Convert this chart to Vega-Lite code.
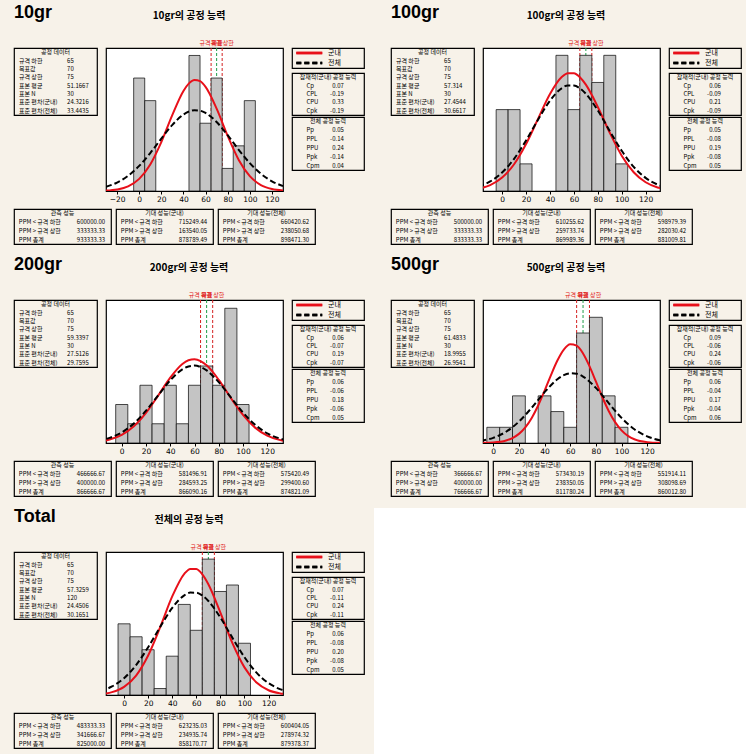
{
"$schema": "https://vega.github.io/schema/vega-lite/v6.json",
"background": "#f7f2e9",
"padding": {"left": 13, "top": 4, "right": 0, "bottom": 0},
"config": {
  "view": {"stroke": null},
  "font": "Noto Sans CJK KR",
  "text": {"font": "Noto Sans CJK KR", "fontSize": 6, "color": "#000"},
  "axis": {"labelFont": "DejaVu Sans", "labelFontSize": 7.5, "labelColor": "#000", "tickColor": "#000", "tickSize": 3, "domain": false, "grid": false, "labelPadding": 1, "labelOverlap": false, "labelFlush": false}
},
"datasets": {
  "heads": [
    {"p": "10gr", "big": "10gr", "title": "10gr의 공정 능력"},
    {"p": "100gr", "big": "100gr", "title": "100gr의 공정 능력"},
    {"p": "200gr", "big": "200gr", "title": "200gr의 공정 능력"},
    {"p": "500gr", "big": "500gr", "title": "500gr의 공정 능력"},
    {"p": "Total", "big": "Total", "title": "전체의 공정 능력"}
  ],
  "spec": [
    {"t": "규격 하한", "v": 65},
    {"t": "목표", "v": 70},
    {"t": "규격 상한", "v": 75}
  ],
  "leg": [{"s": "군내"}, {"s": "전체"}],
  "hist": [
    {"p": "10gr", "lo": -5, "hi": 5, "n": 5}, {"p": "10gr", "lo": 5, "hi": 15, "n": 4}, {"p": "10gr", "lo": 45, "hi": 55, "n": 6}, {"p": "10gr", "lo": 55, "hi": 65, "n": 3}, {"p": "10gr", "lo": 65, "hi": 75, "n": 5}, {"p": "10gr", "lo": 75, "hi": 85, "n": 1}, {"p": "10gr", "lo": 85, "hi": 95, "n": 2}, {"p": "10gr", "lo": 95, "hi": 105, "n": 4},
    {"p": "100gr", "lo": -5, "hi": 5, "n": 3}, {"p": "100gr", "lo": 5, "hi": 15, "n": 3}, {"p": "100gr", "lo": 15, "hi": 25, "n": 1}, {"p": "100gr", "lo": 45, "hi": 55, "n": 5}, {"p": "100gr", "lo": 55, "hi": 65, "n": 3}, {"p": "100gr", "lo": 65, "hi": 75, "n": 5}, {"p": "100gr", "lo": 75, "hi": 85, "n": 4}, {"p": "100gr", "lo": 85, "hi": 95, "n": 5}, {"p": "100gr", "lo": 95, "hi": 105, "n": 1},
    {"p": "200gr", "lo": -5, "hi": 5, "n": 2}, {"p": "200gr", "lo": 5, "hi": 15, "n": 1}, {"p": "200gr", "lo": 15, "hi": 25, "n": 3}, {"p": "200gr", "lo": 25, "hi": 35, "n": 1}, {"p": "200gr", "lo": 35, "hi": 45, "n": 3}, {"p": "200gr", "lo": 45, "hi": 55, "n": 1}, {"p": "200gr", "lo": 55, "hi": 65, "n": 3}, {"p": "200gr", "lo": 65, "hi": 75, "n": 4}, {"p": "200gr", "lo": 75, "hi": 85, "n": 3}, {"p": "200gr", "lo": 85, "hi": 95, "n": 7}, {"p": "200gr", "lo": 95, "hi": 105, "n": 2},
    {"p": "500gr", "lo": -5, "hi": 5, "n": 1}, {"p": "500gr", "lo": 5, "hi": 15, "n": 1}, {"p": "500gr", "lo": 15, "hi": 25, "n": 3}, {"p": "500gr", "lo": 35, "hi": 45, "n": 3}, {"p": "500gr", "lo": 45, "hi": 55, "n": 2}, {"p": "500gr", "lo": 55, "hi": 65, "n": 1}, {"p": "500gr", "lo": 65, "hi": 75, "n": 7}, {"p": "500gr", "lo": 75, "hi": 85, "n": 8}, {"p": "500gr", "lo": 85, "hi": 95, "n": 3}, {"p": "500gr", "lo": 95, "hi": 105, "n": 1},
    {"p": "Total", "lo": -5, "hi": 5, "n": 11}, {"p": "Total", "lo": 5, "hi": 15, "n": 9}, {"p": "Total", "lo": 15, "hi": 25, "n": 7}, {"p": "Total", "lo": 25, "hi": 35, "n": 1}, {"p": "Total", "lo": 35, "hi": 45, "n": 6}, {"p": "Total", "lo": 45, "hi": 55, "n": 14}, {"p": "Total", "lo": 55, "hi": 65, "n": 10}, {"p": "Total", "lo": 65, "hi": 75, "n": 21}, {"p": "Total", "lo": 75, "hi": 85, "n": 16}, {"p": "Total", "lo": 85, "hi": 95, "n": 17}, {"p": "Total", "lo": 95, "hi": 105, "n": 8}
  ],
  "curve": [
    {"p": "10gr", "s": "w", "x": -30, "y": 0.0188}, {"p": "10gr", "s": "w", "x": -20, "y": 0.0681}, {"p": "10gr", "s": "w", "x": -10, "y": 0.2082}, {"p": "10gr", "s": "w", "x": 0, "y": 0.5383}, {"p": "10gr", "s": "w", "x": 10, "y": 1.174}, {"p": "10gr", "s": "w", "x": 20, "y": 2.165}, {"p": "10gr", "s": "w", "x": 30, "y": 3.369}, {"p": "10gr", "s": "w", "x": 40, "y": 4.428}, {"p": "10gr", "s": "w", "x": 45, "y": 4.7651}, {"p": "10gr", "s": "w", "x": 50, "y": 4.915}, {"p": "10gr", "s": "w", "x": 55, "y": 4.8601}, {"p": "10gr", "s": "w", "x": 60, "y": 4.607}, {"p": "10gr", "s": "w", "x": 70, "y": 3.646}, {"p": "10gr", "s": "w", "x": 80, "y": 2.437}, {"p": "10gr", "s": "w", "x": 90, "y": 1.376}, {"p": "10gr", "s": "w", "x": 100, "y": 0.656}, {"p": "10gr", "s": "w", "x": 110, "y": 0.264}, {"p": "10gr", "s": "w", "x": 120, "y": 0.0897}, {"p": "10gr", "s": "w", "x": 130, "y": 0.0257},
    {"p": "10gr", "s": "o", "x": -30, "y": 0.1883}, {"p": "10gr", "s": "o", "x": -20, "y": 0.3719}, {"p": "10gr", "s": "o", "x": -10, "y": 0.6717}, {"p": "10gr", "s": "o", "x": 0, "y": 1.110}, {"p": "10gr", "s": "o", "x": 10, "y": 1.678}, {"p": "10gr", "s": "o", "x": 20, "y": 2.318}, {"p": "10gr", "s": "o", "x": 30, "y": 2.929}, {"p": "10gr", "s": "o", "x": 40, "y": 3.384}, {"p": "10gr", "s": "o", "x": 45, "y": 3.5183}, {"p": "10gr", "s": "o", "x": 50, "y": 3.576}, {"p": "10gr", "s": "o", "x": 55, "y": 3.5552}, {"p": "10gr", "s": "o", "x": 60, "y": 3.456}, {"p": "10gr", "s": "o", "x": 70, "y": 3.054}, {"p": "10gr", "s": "o", "x": 80, "y": 2.468}, {"p": "10gr", "s": "o", "x": 90, "y": 1.824}, {"p": "10gr", "s": "o", "x": 100, "y": 1.233}, {"p": "10gr", "s": "o", "x": 110, "y": 0.762}, {"p": "10gr", "s": "o", "x": 120, "y": 0.4305}, {"p": "10gr", "s": "o", "x": 130, "y": 0.2226},
    {"p": "100gr", "s": "w", "x": -20, "y": 0.0827}, {"p": "100gr", "s": "w", "x": -10, "y": 0.2159}, {"p": "100gr", "s": "w", "x": 0, "y": 0.4935}, {"p": "100gr", "s": "w", "x": 10, "y": 0.9874}, {"p": "100gr", "s": "w", "x": 20, "y": 1.731}, {"p": "100gr", "s": "w", "x": 30, "y": 2.658}, {"p": "100gr", "s": "w", "x": 40, "y": 3.573}, {"p": "100gr", "s": "w", "x": 50, "y": 4.208}, {"p": "100gr", "s": "w", "x": 55, "y": 4.3439}, {"p": "100gr", "s": "w", "x": 60, "y": 4.338}, {"p": "100gr", "s": "w", "x": 65, "y": 4.192}, {"p": "100gr", "s": "w", "x": 70, "y": 3.918}, {"p": "100gr", "s": "w", "x": 80, "y": 3.098}, {"p": "100gr", "s": "w", "x": 90, "y": 2.146}, {"p": "100gr", "s": "w", "x": 100, "y": 1.301}, {"p": "100gr", "s": "w", "x": 110, "y": 0.6914}, {"p": "100gr", "s": "w", "x": 120, "y": 0.3215}, {"p": "100gr", "s": "w", "x": 130, "y": 0.1310}, {"p": "100gr", "s": "w", "x": 140, "y": 0.0467},
    {"p": "100gr", "s": "o", "x": -20, "y": 0.1625}, {"p": "100gr", "s": "o", "x": -10, "y": 0.3508}, {"p": "100gr", "s": "o", "x": 0, "y": 0.6803}, {"p": "100gr", "s": "o", "x": 10, "y": 1.187}, {"p": "100gr", "s": "o", "x": 20, "y": 1.862}, {"p": "100gr", "s": "o", "x": 30, "y": 2.625}, {"p": "100gr", "s": "o", "x": 40, "y": 3.328}, {"p": "100gr", "s": "o", "x": 50, "y": 3.794}, {"p": "100gr", "s": "o", "x": 55, "y": 3.8922}, {"p": "100gr", "s": "o", "x": 60, "y": 3.888}, {"p": "100gr", "s": "o", "x": 65, "y": 3.7826}, {"p": "100gr", "s": "o", "x": 70, "y": 3.583}, {"p": "100gr", "s": "o", "x": 80, "y": 2.968}, {"p": "100gr", "s": "o", "x": 90, "y": 2.211}, {"p": "100gr", "s": "o", "x": 100, "y": 1.481}, {"p": "100gr", "s": "o", "x": 110, "y": 0.8915}, {"p": "100gr", "s": "o", "x": 120, "y": 0.4828}, {"p": "100gr", "s": "o", "x": 130, "y": 0.2350}, {"p": "100gr", "s": "o", "x": 140, "y": 0.1029},
    {"p": "200gr", "s": "w", "x": -20, "y": 0.0680}, {"p": "200gr", "s": "w", "x": -10, "y": 0.1816}, {"p": "200gr", "s": "w", "x": 0, "y": 0.4251}, {"p": "200gr", "s": "w", "x": 10, "y": 0.8713}, {"p": "200gr", "s": "w", "x": 20, "y": 1.565}, {"p": "200gr", "s": "w", "x": 30, "y": 2.463}, {"p": "200gr", "s": "w", "x": 40, "y": 3.398}, {"p": "200gr", "s": "w", "x": 50, "y": 4.107}, {"p": "200gr", "s": "w", "x": 55, "y": 4.2963}, {"p": "200gr", "s": "w", "x": 60, "y": 4.349}, {"p": "200gr", "s": "w", "x": 65, "y": 4.259}, {"p": "200gr", "s": "w", "x": 70, "y": 4.036}, {"p": "200gr", "s": "w", "x": 80, "y": 3.281}, {"p": "200gr", "s": "w", "x": 90, "y": 2.338}, {"p": "200gr", "s": "w", "x": 100, "y": 1.4595}, {"p": "200gr", "s": "w", "x": 110, "y": 0.7987}, {"p": "200gr", "s": "w", "x": 120, "y": 0.3828}, {"p": "200gr", "s": "w", "x": 130, "y": 0.1608}, {"p": "200gr", "s": "w", "x": 140, "y": 0.0592},
    {"p": "200gr", "s": "o", "x": -20, "y": 0.1150}, {"p": "200gr", "s": "o", "x": -10, "y": 0.2664}, {"p": "200gr", "s": "o", "x": 0, "y": 0.5509}, {"p": "200gr", "s": "o", "x": 10, "y": 1.0175}, {"p": "200gr", "s": "o", "x": 20, "y": 1.6786}, {"p": "200gr", "s": "o", "x": 30, "y": 2.4737}, {"p": "200gr", "s": "o", "x": 40, "y": 3.2559}, {"p": "200gr", "s": "o", "x": 50, "y": 3.8286}, {"p": "200gr", "s": "o", "x": 55, "y": 3.9791}, {"p": "200gr", "s": "o", "x": 60, "y": 4.0208}, {"p": "200gr", "s": "o", "x": 65, "y": 3.9495}, {"p": "200gr", "s": "o", "x": 70, "y": 3.7719}, {"p": "200gr", "s": "o", "x": 80, "y": 3.1606}, {"p": "200gr", "s": "o", "x": 90, "y": 2.3655}, {"p": "200gr", "s": "o", "x": 100, "y": 1.5813}, {"p": "200gr", "s": "o", "x": 110, "y": 0.9443}, {"p": "200gr", "s": "o", "x": 120, "y": 0.5035}, {"p": "200gr", "s": "o", "x": 130, "y": 0.2401}, {"p": "200gr", "s": "o", "x": 140, "y": 0.1021},
    {"p": "500gr", "s": "w", "x": -10, "y": 0.0053}, {"p": "500gr", "s": "w", "x": 0, "y": 0.0335}, {"p": "500gr", "s": "w", "x": 10, "y": 0.1601}, {"p": "500gr", "s": "w", "x": 15, "y": 0.3157}, {"p": "500gr", "s": "w", "x": 20, "y": 0.5806}, {"p": "500gr", "s": "w", "x": 25, "y": 0.9968}, {"p": "500gr", "s": "w", "x": 30, "y": 1.596}, {"p": "500gr", "s": "w", "x": 35, "y": 2.385}, {"p": "500gr", "s": "w", "x": 40, "y": 3.324}, {"p": "500gr", "s": "w", "x": 45, "y": 4.325}, {"p": "500gr", "s": "w", "x": 50, "y": 5.249}, {"p": "500gr", "s": "w", "x": 55, "y": 5.944}, {"p": "500gr", "s": "w", "x": 60, "y": 6.2816}, {"p": "500gr", "s": "w", "x": 65, "y": 6.193}, {"p": "500gr", "s": "w", "x": 70, "y": 5.697}, {"p": "500gr", "s": "w", "x": 75, "y": 4.891}, {"p": "500gr", "s": "w", "x": 80, "y": 3.917}, {"p": "500gr", "s": "w", "x": 85, "y": 2.927}, {"p": "500gr", "s": "w", "x": 90, "y": 2.041}, {"p": "500gr", "s": "w", "x": 95, "y": 1.328}, {"p": "500gr", "s": "w", "x": 100, "y": 0.8059}, {"p": "500gr", "s": "w", "x": 105, "y": 0.4565}, {"p": "500gr", "s": "w", "x": 110, "y": 0.2414}, {"p": "500gr", "s": "w", "x": 120, "y": 0.0548}, {"p": "500gr", "s": "w", "x": 130, "y": 0.0094}, {"p": "500gr", "s": "w", "x": 140, "y": 0.0012},
    {"p": "500gr", "s": "o", "x": -10, "y": 0.1319}, {"p": "500gr", "s": "o", "x": 0, "y": 0.3294}, {"p": "500gr", "s": "o", "x": 10, "y": 0.7167}, {"p": "500gr", "s": "o", "x": 20, "y": 1.3587}, {"p": "500gr", "s": "o", "x": 30, "y": 2.245}, {"p": "500gr", "s": "o", "x": 40, "y": 3.2325}, {"p": "500gr", "s": "o", "x": 50, "y": 4.0552}, {"p": "500gr", "s": "o", "x": 55, "y": 4.3136}, {"p": "500gr", "s": "o", "x": 60, "y": 4.4335}, {"p": "500gr", "s": "o", "x": 65, "y": 4.4026}, {"p": "500gr", "s": "o", "x": 70, "y": 4.2235}, {"p": "500gr", "s": "o", "x": 80, "y": 3.5069}, {"p": "500gr", "s": "o", "x": 90, "y": 2.5367}, {"p": "500gr", "s": "o", "x": 100, "y": 1.5994}, {"p": "500gr", "s": "o", "x": 110, "y": 0.8787}, {"p": "500gr", "s": "o", "x": 120, "y": 0.4206}, {"p": "500gr", "s": "o", "x": 130, "y": 0.1755}, {"p": "500gr", "s": "o", "x": 140, "y": 0.0638},
    {"p": "Total", "s": "w", "x": -20, "y": 0.1317}, {"p": "Total", "s": "w", "x": -10, "y": 0.4417}, {"p": "Total", "s": "w", "x": 0, "y": 1.2527}, {"p": "Total", "s": "w", "x": 10, "y": 3.0073}, {"p": "Total", "s": "w", "x": 20, "y": 6.1047}, {"p": "Total", "s": "w", "x": 30, "y": 10.483}, {"p": "Total", "s": "w", "x": 40, "y": 15.231}, {"p": "Total", "s": "w", "x": 50, "y": 18.72}, {"p": "Total", "s": "w", "x": 55, "y": 19.491}, {"p": "Total", "s": "w", "x": 60, "y": 19.462}, {"p": "Total", "s": "w", "x": 65, "y": 18.638}, {"p": "Total", "s": "w", "x": 70, "y": 17.118}, {"p": "Total", "s": "w", "x": 80, "y": 12.738}, {"p": "Total", "s": "w", "x": 90, "y": 8.0196}, {"p": "Total", "s": "w", "x": 100, "y": 4.2702}, {"p": "Total", "s": "w", "x": 110, "y": 1.924}, {"p": "Total", "s": "w", "x": 120, "y": 0.7334}, {"p": "Total", "s": "w", "x": 130, "y": 0.2363}, {"p": "Total", "s": "w", "x": 140, "y": 0.0645},
    {"p": "Total", "s": "o", "x": -20, "y": 0.5939}, {"p": "Total", "s": "o", "x": -10, "y": 1.3147}, {"p": "Total", "s": "o", "x": 0, "y": 2.6075}, {"p": "Total", "s": "o", "x": 10, "y": 4.634}, {"p": "Total", "s": "o", "x": 20, "y": 7.3796}, {"p": "Total", "s": "o", "x": 30, "y": 10.528}, {"p": "Total", "s": "o", "x": 40, "y": 13.456}, {"p": "Total", "s": "o", "x": 50, "y": 15.408}, {"p": "Total", "s": "o", "x": 55, "y": 15.823}, {"p": "Total", "s": "o", "x": 60, "y": 15.808}, {"p": "Total", "s": "o", "x": 65, "y": 15.365}, {"p": "Total", "s": "o", "x": 70, "y": 14.531}, {"p": "Total", "s": "o", "x": 80, "y": 11.966}, {"p": "Total", "s": "o", "x": 90, "y": 8.8285}, {"p": "Total", "s": "o", "x": 100, "y": 5.8355}, {"p": "Total", "s": "o", "x": 110, "y": 3.4565}, {"p": "Total", "s": "o", "x": 120, "y": 1.8346}, {"p": "Total", "s": "o", "x": 130, "y": 0.8719}, {"p": "Total", "s": "o", "x": 140, "y": 0.3714}
  ],
  "box": [
    {"p": "10gr", "b": "d", "l": "공정 데이터", "v": "", "h": 1}, {"p": "10gr", "b": "d", "l": "규격 하한", "v": "65", "h": 0}, {"p": "10gr", "b": "d", "l": "목표값", "v": "70", "h": 0}, {"p": "10gr", "b": "d", "l": "규격 상한", "v": "75", "h": 0}, {"p": "10gr", "b": "d", "l": "표본 평균", "v": "51.1667", "h": 0}, {"p": "10gr", "b": "d", "l": "표본 N", "v": "30", "h": 0}, {"p": "10gr", "b": "d", "l": "표준 편차(군내)", "v": "24.3216", "h": 0}, {"p": "10gr", "b": "d", "l": "표준 편차(전체)", "v": "33.4435", "h": 0},
    {"p": "10gr", "b": "w", "l": "잠재적(군내) 공정 능력", "v": "", "h": 1}, {"p": "10gr", "b": "w", "l": "Cp", "v": "0.07", "h": 0}, {"p": "10gr", "b": "w", "l": "CPL", "v": "-0.19", "h": 0}, {"p": "10gr", "b": "w", "l": "CPU", "v": "0.33", "h": 0}, {"p": "10gr", "b": "w", "l": "Cpk", "v": "-0.19", "h": 0},
    {"p": "10gr", "b": "o", "l": "전체 공정 능력", "v": "", "h": 1}, {"p": "10gr", "b": "o", "l": "Pp", "v": "0.05", "h": 0}, {"p": "10gr", "b": "o", "l": "PPL", "v": "-0.14", "h": 0}, {"p": "10gr", "b": "o", "l": "PPU", "v": "0.24", "h": 0}, {"p": "10gr", "b": "o", "l": "Ppk", "v": "-0.14", "h": 0}, {"p": "10gr", "b": "o", "l": "Cpm", "v": "0.04", "h": 0},
    {"p": "10gr", "b": "ob", "l": "관측 성능", "v": "", "h": 1}, {"p": "10gr", "b": "ob", "l": "PPM < 규격 하한", "v": "600000.00", "h": 0}, {"p": "10gr", "b": "ob", "l": "PPM > 규격 상한", "v": "333333.33", "h": 0}, {"p": "10gr", "b": "ob", "l": "PPM 총계", "v": "933333.33", "h": 0},
    {"p": "10gr", "b": "ew", "l": "기대 성능(군내)", "v": "", "h": 1}, {"p": "10gr", "b": "ew", "l": "PPM < 규격 하한", "v": "715249.44", "h": 0}, {"p": "10gr", "b": "ew", "l": "PPM > 규격 상한", "v": "163540.05", "h": 0}, {"p": "10gr", "b": "ew", "l": "PPM 총계", "v": "878789.49", "h": 0},
    {"p": "10gr", "b": "eo", "l": "기대 성능(전체)", "v": "", "h": 1}, {"p": "10gr", "b": "eo", "l": "PPM < 규격 하한", "v": "660420.62", "h": 0}, {"p": "10gr", "b": "eo", "l": "PPM > 규격 상한", "v": "238050.68", "h": 0}, {"p": "10gr", "b": "eo", "l": "PPM 총계", "v": "898471.30", "h": 0},
    {"p": "100gr", "b": "d", "l": "공정 데이터", "v": "", "h": 1}, {"p": "100gr", "b": "d", "l": "규격 하한", "v": "65", "h": 0}, {"p": "100gr", "b": "d", "l": "목표값", "v": "70", "h": 0}, {"p": "100gr", "b": "d", "l": "규격 상한", "v": "75", "h": 0}, {"p": "100gr", "b": "d", "l": "표본 평균", "v": "57.314", "h": 0}, {"p": "100gr", "b": "d", "l": "표본 N", "v": "30", "h": 0}, {"p": "100gr", "b": "d", "l": "표준 편차(군내)", "v": "27.4544", "h": 0}, {"p": "100gr", "b": "d", "l": "표준 편차(전체)", "v": "30.6617", "h": 0},
    {"p": "100gr", "b": "w", "l": "잠재적(군내) 공정 능력", "v": "", "h": 1}, {"p": "100gr", "b": "w", "l": "Cp", "v": "0.06", "h": 0}, {"p": "100gr", "b": "w", "l": "CPL", "v": "-0.09", "h": 0}, {"p": "100gr", "b": "w", "l": "CPU", "v": "0.21", "h": 0}, {"p": "100gr", "b": "w", "l": "Cpk", "v": "-0.09", "h": 0},
    {"p": "100gr", "b": "o", "l": "전체 공정 능력", "v": "", "h": 1}, {"p": "100gr", "b": "o", "l": "Pp", "v": "0.05", "h": 0}, {"p": "100gr", "b": "o", "l": "PPL", "v": "-0.08", "h": 0}, {"p": "100gr", "b": "o", "l": "PPU", "v": "0.19", "h": 0}, {"p": "100gr", "b": "o", "l": "Ppk", "v": "-0.08", "h": 0}, {"p": "100gr", "b": "o", "l": "Cpm", "v": "0.05", "h": 0},
    {"p": "100gr", "b": "ob", "l": "관측 성능", "v": "", "h": 1}, {"p": "100gr", "b": "ob", "l": "PPM < 규격 하한", "v": "500000.00", "h": 0}, {"p": "100gr", "b": "ob", "l": "PPM > 규격 상한", "v": "333333.33", "h": 0}, {"p": "100gr", "b": "ob", "l": "PPM 총계", "v": "833333.33", "h": 0},
    {"p": "100gr", "b": "ew", "l": "기대 성능(군내)", "v": "", "h": 1}, {"p": "100gr", "b": "ew", "l": "PPM < 규격 하한", "v": "610255.62", "h": 0}, {"p": "100gr", "b": "ew", "l": "PPM > 규격 상한", "v": "259733.74", "h": 0}, {"p": "100gr", "b": "ew", "l": "PPM 총계", "v": "869989.36", "h": 0},
    {"p": "100gr", "b": "eo", "l": "기대 성능(전체)", "v": "", "h": 1}, {"p": "100gr", "b": "eo", "l": "PPM < 규격 하한", "v": "598979.39", "h": 0}, {"p": "100gr", "b": "eo", "l": "PPM > 규격 상한", "v": "282030.42", "h": 0}, {"p": "100gr", "b": "eo", "l": "PPM 총계", "v": "881009.81", "h": 0},
    {"p": "200gr", "b": "d", "l": "공정 데이터", "v": "", "h": 1}, {"p": "200gr", "b": "d", "l": "규격 하한", "v": "65", "h": 0}, {"p": "200gr", "b": "d", "l": "목표값", "v": "70", "h": 0}, {"p": "200gr", "b": "d", "l": "규격 상한", "v": "75", "h": 0}, {"p": "200gr", "b": "d", "l": "표본 평균", "v": "59.3397", "h": 0}, {"p": "200gr", "b": "d", "l": "표본 N", "v": "30", "h": 0}, {"p": "200gr", "b": "d", "l": "표준 편차(군내)", "v": "27.5126", "h": 0}, {"p": "200gr", "b": "d", "l": "표준 편차(전체)", "v": "29.7595", "h": 0},
    {"p": "200gr", "b": "w", "l": "잠재적(군내) 공정 능력", "v": "", "h": 1}, {"p": "200gr", "b": "w", "l": "Cp", "v": "0.06", "h": 0}, {"p": "200gr", "b": "w", "l": "CPL", "v": "-0.07", "h": 0}, {"p": "200gr", "b": "w", "l": "CPU", "v": "0.19", "h": 0}, {"p": "200gr", "b": "w", "l": "Cpk", "v": "-0.07", "h": 0},
    {"p": "200gr", "b": "o", "l": "전체 공정 능력", "v": "", "h": 1}, {"p": "200gr", "b": "o", "l": "Pp", "v": "0.06", "h": 0}, {"p": "200gr", "b": "o", "l": "PPL", "v": "-0.06", "h": 0}, {"p": "200gr", "b": "o", "l": "PPU", "v": "0.18", "h": 0}, {"p": "200gr", "b": "o", "l": "Ppk", "v": "-0.06", "h": 0}, {"p": "200gr", "b": "o", "l": "Cpm", "v": "0.05", "h": 0},
    {"p": "200gr", "b": "ob", "l": "관측 성능", "v": "", "h": 1}, {"p": "200gr", "b": "ob", "l": "PPM < 규격 하한", "v": "466666.67", "h": 0}, {"p": "200gr", "b": "ob", "l": "PPM > 규격 상한", "v": "400000.00", "h": 0}, {"p": "200gr", "b": "ob", "l": "PPM 총계", "v": "866666.67", "h": 0},
    {"p": "200gr", "b": "ew", "l": "기대 성능(군내)", "v": "", "h": 1}, {"p": "200gr", "b": "ew", "l": "PPM < 규격 하한", "v": "581496.91", "h": 0}, {"p": "200gr", "b": "ew", "l": "PPM > 규격 상한", "v": "284593.25", "h": 0}, {"p": "200gr", "b": "ew", "l": "PPM 총계", "v": "866090.16", "h": 0},
    {"p": "200gr", "b": "eo", "l": "기대 성능(전체)", "v": "", "h": 1}, {"p": "200gr", "b": "eo", "l": "PPM < 규격 하한", "v": "575420.49", "h": 0}, {"p": "200gr", "b": "eo", "l": "PPM > 규격 상한", "v": "299400.60", "h": 0}, {"p": "200gr", "b": "eo", "l": "PPM 총계", "v": "874821.09", "h": 0},
    {"p": "500gr", "b": "d", "l": "공정 데이터", "v": "", "h": 1}, {"p": "500gr", "b": "d", "l": "규격 하한", "v": "65", "h": 0}, {"p": "500gr", "b": "d", "l": "목표값", "v": "70", "h": 0}, {"p": "500gr", "b": "d", "l": "규격 상한", "v": "75", "h": 0}, {"p": "500gr", "b": "d", "l": "표본 평균", "v": "61.4833", "h": 0}, {"p": "500gr", "b": "d", "l": "표본 N", "v": "30", "h": 0}, {"p": "500gr", "b": "d", "l": "표준 편차(군내)", "v": "18.9955", "h": 0}, {"p": "500gr", "b": "d", "l": "표준 편차(전체)", "v": "26.9541", "h": 0},
    {"p": "500gr", "b": "w", "l": "잠재적(군내) 공정 능력", "v": "", "h": 1}, {"p": "500gr", "b": "w", "l": "Cp", "v": "0.09", "h": 0}, {"p": "500gr", "b": "w", "l": "CPL", "v": "-0.06", "h": 0}, {"p": "500gr", "b": "w", "l": "CPU", "v": "0.24", "h": 0}, {"p": "500gr", "b": "w", "l": "Cpk", "v": "-0.06", "h": 0},
    {"p": "500gr", "b": "o", "l": "전체 공정 능력", "v": "", "h": 1}, {"p": "500gr", "b": "o", "l": "Pp", "v": "0.06", "h": 0}, {"p": "500gr", "b": "o", "l": "PPL", "v": "-0.04", "h": 0}, {"p": "500gr", "b": "o", "l": "PPU", "v": "0.17", "h": 0}, {"p": "500gr", "b": "o", "l": "Ppk", "v": "-0.04", "h": 0}, {"p": "500gr", "b": "o", "l": "Cpm", "v": "0.06", "h": 0},
    {"p": "500gr", "b": "ob", "l": "관측 성능", "v": "", "h": 1}, {"p": "500gr", "b": "ob", "l": "PPM < 규격 하한", "v": "366666.67", "h": 0}, {"p": "500gr", "b": "ob", "l": "PPM > 규격 상한", "v": "400000.00", "h": 0}, {"p": "500gr", "b": "ob", "l": "PPM 총계", "v": "766666.67", "h": 0},
    {"p": "500gr", "b": "ew", "l": "기대 성능(군내)", "v": "", "h": 1}, {"p": "500gr", "b": "ew", "l": "PPM < 규격 하한", "v": "573430.19", "h": 0}, {"p": "500gr", "b": "ew", "l": "PPM > 규격 상한", "v": "238350.05", "h": 0}, {"p": "500gr", "b": "ew", "l": "PPM 총계", "v": "811780.24", "h": 0},
    {"p": "500gr", "b": "eo", "l": "기대 성능(전체)", "v": "", "h": 1}, {"p": "500gr", "b": "eo", "l": "PPM < 규격 하한", "v": "551914.11", "h": 0}, {"p": "500gr", "b": "eo", "l": "PPM > 규격 상한", "v": "308098.69", "h": 0}, {"p": "500gr", "b": "eo", "l": "PPM 총계", "v": "860012.80", "h": 0},
    {"p": "Total", "b": "d", "l": "공정 데이터", "v": "", "h": 1}, {"p": "Total", "b": "d", "l": "규격 하한", "v": "65", "h": 0}, {"p": "Total", "b": "d", "l": "목표값", "v": "70", "h": 0}, {"p": "Total", "b": "d", "l": "규격 상한", "v": "75", "h": 0}, {"p": "Total", "b": "d", "l": "표본 평균", "v": "57.3259", "h": 0}, {"p": "Total", "b": "d", "l": "표본 N", "v": "120", "h": 0}, {"p": "Total", "b": "d", "l": "표준 편차(군내)", "v": "24.4506", "h": 0}, {"p": "Total", "b": "d", "l": "표준 편차(전체)", "v": "30.1651", "h": 0},
    {"p": "Total", "b": "w", "l": "잠재적(군내) 공정 능력", "v": "", "h": 1}, {"p": "Total", "b": "w", "l": "Cp", "v": "0.07", "h": 0}, {"p": "Total", "b": "w", "l": "CPL", "v": "-0.11", "h": 0}, {"p": "Total", "b": "w", "l": "CPU", "v": "0.24", "h": 0}, {"p": "Total", "b": "w", "l": "Cpk", "v": "-0.11", "h": 0},
    {"p": "Total", "b": "o", "l": "전체 공정 능력", "v": "", "h": 1}, {"p": "Total", "b": "o", "l": "Pp", "v": "0.06", "h": 0}, {"p": "Total", "b": "o", "l": "PPL", "v": "-0.08", "h": 0}, {"p": "Total", "b": "o", "l": "PPU", "v": "0.20", "h": 0}, {"p": "Total", "b": "o", "l": "Ppk", "v": "-0.08", "h": 0}, {"p": "Total", "b": "o", "l": "Cpm", "v": "0.05", "h": 0},
    {"p": "Total", "b": "ob", "l": "관측 성능", "v": "", "h": 1}, {"p": "Total", "b": "ob", "l": "PPM < 규격 하한", "v": "483333.33", "h": 0}, {"p": "Total", "b": "ob", "l": "PPM > 규격 상한", "v": "341666.67", "h": 0}, {"p": "Total", "b": "ob", "l": "PPM 총계", "v": "825000.00", "h": 0},
    {"p": "Total", "b": "ew", "l": "기대 성능(군내)", "v": "", "h": 1}, {"p": "Total", "b": "ew", "l": "PPM < 규격 하한", "v": "623235.03", "h": 0}, {"p": "Total", "b": "ew", "l": "PPM > 규격 상한", "v": "234935.74", "h": 0}, {"p": "Total", "b": "ew", "l": "PPM 총계", "v": "858170.77", "h": 0},
    {"p": "Total", "b": "eo", "l": "기대 성능(전체)", "v": "", "h": 1}, {"p": "Total", "b": "eo", "l": "PPM < 규격 하한", "v": "600404.05", "h": 0}, {"p": "Total", "b": "eo", "l": "PPM > 규격 상한", "v": "278974.32", "h": 0}, {"p": "Total", "b": "eo", "l": "PPM 총계", "v": "879378.37", "h": 0}
  ]
},
"spacing": 11,
"vconcat": [
 {"spacing": 25, "hconcat": [
  {"spacing": 17, "vconcat": [
   {"width": 350, "height": 18, "view": {"stroke": null}, "data": {"name": "heads"}, "transform": [{"filter": "datum.p==='10gr'"}],
    "layer": [
     {"mark": {"type": "text", "align": "left", "font": "Liberation Sans", "fontSize": 18, "fontWeight": "bold"}, "encoding": {"x": {"datum": 0, "type": "quantitative", "scale": {"domain": [0, 1]}, "axis": null}, "text": {"field": "big", "type": "nominal"}}},
     {"mark": {"type": "text", "align": "center", "fontSize": 10, "fontWeight": "bold", "dy": 3}, "encoding": {"x": {"datum": 0.5, "type": "quantitative"}, "text": {"field": "title", "type": "nominal"}}}
    ]},
   {"spacing": 4, "vconcat": [
    {"bounds": "flush", "spacing": 9, "hconcat": [
     {"width": 83, "height": 67, "view": {"stroke": "#000", "strokeWidth": 1.2}, "data": {"name": "box"}, "transform": [{"filter": "datum.p==='10gr' && datum.b==='d'"}],
      "encoding": {"y": {"field": "l", "type": "nominal", "sort": null, "axis": null}},
      "layer": [
       {"mark": "text", "encoding": {"text": {"condition": {"test": "datum.h==1", "field": "l", "type": "nominal"}, "value": ""}}},
       {"mark": {"type": "text", "align": "left"}, "encoding": {"x": {"datum": 0.06, "type": "quantitative", "scale": {"domain": [0, 1]}, "axis": null}, "text": {"condition": {"test": "datum.h==1", "value": ""}, "field": "l", "type": "nominal"}}},
       {"mark": {"type": "text", "align": "left"}, "encoding": {"x": {"datum": 0.64, "type": "quantitative"}, "text": {"field": "v", "type": "nominal"}}}
      ]},
     {"width": 177, "height": 143, "view": {"fill": "white", "stroke": "#000", "strokeWidth": 1.2},
      "layer": [
       {"data": {"name": "spec"}, "transform": [{"filter": "datum.t!=='목표'"}], "mark": {"type": "rule", "color": "#d42020", "strokeDash": [3, 2], "strokeWidth": 1}, "encoding": {"x": {"field": "v", "type": "quantitative", "scale": {"domain": [-30, 130], "nice": false, "zero": false}, "axis": {"values": [-20, 0, 20, 40, 60, 80, 100, 120], "tickCount": 20, "title": null, "labelOverlap": false, "labelSeparation": 0}}}},
       {"data": {"name": "spec"}, "transform": [{"filter": "datum.t==='목표'"}], "mark": {"type": "rule", "color": "#1f9e4a", "strokeDash": [3, 2], "strokeWidth": 1}, "encoding": {"x": {"field": "v", "type": "quantitative"}}},
       {"data": {"name": "hist"}, "transform": [{"filter": "datum.p==='10gr'"}], "mark": {"type": "rect", "fill": "#c4c4c4", "stroke": "#000", "strokeWidth": 0.7}, "encoding": {"x": {"field": "lo", "type": "quantitative"}, "x2": {"field": "hi"}, "y": {"field": "n", "type": "quantitative", "scale": {"domain": [0, 6.33], "nice": false}, "axis": null}, "y2": {"datum": 0}}},
       {"data": {"name": "curve"}, "transform": [{"filter": "datum.p==='10gr' && datum.s==='w'"}], "mark": {"type": "line", "color": "#e8101a", "strokeWidth": 2, "clip": true, "interpolate": "monotone"}, "encoding": {"x": {"field": "x", "type": "quantitative"}, "y": {"field": "y", "type": "quantitative", "axis": null}}},
       {"data": {"name": "curve"}, "transform": [{"filter": "datum.p==='10gr' && datum.s==='o'"}], "mark": {"type": "line", "color": "#000", "strokeWidth": 2, "strokeDash": [6, 3], "clip": true, "interpolate": "monotone"}, "encoding": {"x": {"field": "x", "type": "quantitative"}, "y": {"field": "y", "type": "quantitative", "axis": null}}},
       {"data": {"name": "spec"}, "mark": {"type": "text", "fontSize": 6, "baseline": "bottom", "dy": -2, "color": "#e02020"}, "encoding": {"x": {"field": "v", "type": "quantitative"}, "y": {"datum": 6.33, "type": "quantitative", "axis": null}, "text": {"field": "t", "type": "nominal"}}}
      ]},
     {"spacing": 3, "vconcat": [
      {"width": 72, "height": 20, "view": {"stroke": "#000", "strokeWidth": 1.2}, "data": {"name": "leg"},
       "layer": [
        {"mark": {"type": "rule", "color": "#e8101a", "strokeWidth": 2.5}, "encoding": {"x": {"datum": 0.06, "type": "quantitative", "scale": {"domain": [0, 1]}, "axis": null}, "x2": {"datum": 0.42}, "y": {"datum": "군내", "type": "nominal", "scale": {"domain": ["군내", "전체"]}, "axis": null}}},
        {"mark": {"type": "rule", "color": "#000", "strokeWidth": 2.5, "strokeDash": [5, 3]}, "encoding": {"x": {"datum": 0.06, "type": "quantitative"}, "x2": {"datum": 0.42}, "y": {"datum": "전체", "type": "nominal"}}},
        {"mark": {"type": "text", "align": "left", "fontSize": 7}, "encoding": {"x": {"datum": 0.5, "type": "quantitative"}, "y": {"field": "s", "type": "nominal"}, "text": {"field": "s", "type": "nominal"}}}
       ]},
      {"spacing": 0, "vconcat": [
       {"width": 72, "height": 42, "view": {"stroke": "#000", "strokeWidth": 1.2}, "data": {"name": "box"}, "transform": [{"filter": "datum.p==='10gr' && datum.b==='w'"}],
        "encoding": {"y": {"field": "l", "type": "nominal", "sort": null, "axis": null}},
        "layer": [
         {"mark": "text", "encoding": {"text": {"condition": {"test": "datum.h==1", "field": "l", "type": "nominal"}, "value": ""}}},
         {"mark": {"type": "text", "align": "left"}, "encoding": {"x": {"datum": 0.2, "type": "quantitative", "scale": {"domain": [0, 1]}, "axis": null}, "text": {"condition": {"test": "datum.h==1", "value": ""}, "field": "l", "type": "nominal"}}},
         {"mark": {"type": "text", "align": "right"}, "encoding": {"x": {"datum": 0.72, "type": "quantitative"}, "text": {"field": "v", "type": "nominal"}}}
        ]},
       {"width": 72, "height": 53, "view": {"stroke": "#000", "strokeWidth": 1.2}, "data": {"name": "box"}, "transform": [{"filter": "datum.p==='10gr' && datum.b==='o'"}],
        "encoding": {"y": {"field": "l", "type": "nominal", "sort": null, "axis": null}},
        "layer": [
         {"mark": "text", "encoding": {"text": {"condition": {"test": "datum.h==1", "field": "l", "type": "nominal"}, "value": ""}}},
         {"mark": {"type": "text", "align": "left"}, "encoding": {"x": {"datum": 0.2, "type": "quantitative", "scale": {"domain": [0, 1]}, "axis": null}, "text": {"condition": {"test": "datum.h==1", "value": ""}, "field": "l", "type": "nominal"}}},
         {"mark": {"type": "text", "align": "right"}, "encoding": {"x": {"datum": 0.72, "type": "quantitative"}, "text": {"field": "v", "type": "nominal"}}}
        ]}
      ]}
     ]}
    ]},
    {"spacing": 3, "hconcat": [
     {"width": 97, "height": 35, "view": {"stroke": "#000", "strokeWidth": 1.2}, "data": {"name": "box"}, "transform": [{"filter": "datum.p==='10gr' && datum.b==='ob'"}],
      "encoding": {"y": {"field": "l", "type": "nominal", "sort": null, "axis": null}},
      "layer": [
       {"mark": "text", "encoding": {"text": {"condition": {"test": "datum.h==1", "field": "l", "type": "nominal"}, "value": ""}}},
       {"mark": {"type": "text", "align": "left"}, "encoding": {"x": {"datum": 0.05, "type": "quantitative", "scale": {"domain": [0, 1]}, "axis": null}, "text": {"condition": {"test": "datum.h==1", "value": ""}, "field": "l", "type": "nominal"}}},
       {"mark": {"type": "text", "align": "right"}, "encoding": {"x": {"datum": 0.94, "type": "quantitative"}, "text": {"field": "v", "type": "nominal"}}}
      ]},
     {"width": 97, "height": 35, "view": {"stroke": "#000", "strokeWidth": 1.2}, "data": {"name": "box"}, "transform": [{"filter": "datum.p==='10gr' && datum.b==='ew'"}],
      "encoding": {"y": {"field": "l", "type": "nominal", "sort": null, "axis": null}},
      "layer": [
       {"mark": "text", "encoding": {"text": {"condition": {"test": "datum.h==1", "field": "l", "type": "nominal"}, "value": ""}}},
       {"mark": {"type": "text", "align": "left"}, "encoding": {"x": {"datum": 0.05, "type": "quantitative", "scale": {"domain": [0, 1]}, "axis": null}, "text": {"condition": {"test": "datum.h==1", "value": ""}, "field": "l", "type": "nominal"}}},
       {"mark": {"type": "text", "align": "right"}, "encoding": {"x": {"datum": 0.94, "type": "quantitative"}, "text": {"field": "v", "type": "nominal"}}}
      ]},
     {"width": 97, "height": 35, "view": {"stroke": "#000", "strokeWidth": 1.2}, "data": {"name": "box"}, "transform": [{"filter": "datum.p==='10gr' && datum.b==='eo'"}],
      "encoding": {"y": {"field": "l", "type": "nominal", "sort": null, "axis": null}},
      "layer": [
       {"mark": "text", "encoding": {"text": {"condition": {"test": "datum.h==1", "field": "l", "type": "nominal"}, "value": ""}}},
       {"mark": {"type": "text", "align": "left"}, "encoding": {"x": {"datum": 0.05, "type": "quantitative", "scale": {"domain": [0, 1]}, "axis": null}, "text": {"condition": {"test": "datum.h==1", "value": ""}, "field": "l", "type": "nominal"}}},
       {"mark": {"type": "text", "align": "right"}, "encoding": {"x": {"datum": 0.94, "type": "quantitative"}, "text": {"field": "v", "type": "nominal"}}}
      ]}
    ]}
   ]}
  ]},
  {"spacing": 17, "vconcat": [
   {"width": 350, "height": 18, "view": {"stroke": null}, "data": {"name": "heads"}, "transform": [{"filter": "datum.p==='100gr'"}],
    "layer": [
     {"mark": {"type": "text", "align": "left", "font": "Liberation Sans", "fontSize": 18, "fontWeight": "bold"}, "encoding": {"x": {"datum": 0, "type": "quantitative", "scale": {"domain": [0, 1]}, "axis": null}, "text": {"field": "big", "type": "nominal"}}},
     {"mark": {"type": "text", "align": "center", "fontSize": 10, "fontWeight": "bold", "dy": 3}, "encoding": {"x": {"datum": 0.5, "type": "quantitative"}, "text": {"field": "title", "type": "nominal"}}}
    ]},
   {"spacing": 4, "vconcat": [
    {"bounds": "flush", "spacing": 9, "hconcat": [
     {"width": 83, "height": 67, "view": {"stroke": "#000", "strokeWidth": 1.2}, "data": {"name": "box"}, "transform": [{"filter": "datum.p==='100gr' && datum.b==='d'"}],
      "encoding": {"y": {"field": "l", "type": "nominal", "sort": null, "axis": null}},
      "layer": [
       {"mark": "text", "encoding": {"text": {"condition": {"test": "datum.h==1", "field": "l", "type": "nominal"}, "value": ""}}},
       {"mark": {"type": "text", "align": "left"}, "encoding": {"x": {"datum": 0.06, "type": "quantitative", "scale": {"domain": [0, 1]}, "axis": null}, "text": {"condition": {"test": "datum.h==1", "value": ""}, "field": "l", "type": "nominal"}}},
       {"mark": {"type": "text", "align": "left"}, "encoding": {"x": {"datum": 0.64, "type": "quantitative"}, "text": {"field": "v", "type": "nominal"}}}
      ]},
     {"width": 177, "height": 143, "view": {"fill": "white", "stroke": "#000", "strokeWidth": 1.2},
      "layer": [
       {"data": {"name": "spec"}, "transform": [{"filter": "datum.t!=='목표'"}], "mark": {"type": "rule", "color": "#d42020", "strokeDash": [3, 2], "strokeWidth": 1}, "encoding": {"x": {"field": "v", "type": "quantitative", "scale": {"domain": [-16, 132], "nice": false, "zero": false}, "axis": {"values": [0, 20, 40, 60, 80, 100, 120], "tickCount": 20, "title": null, "labelOverlap": false, "labelSeparation": 0}}}},
       {"data": {"name": "spec"}, "transform": [{"filter": "datum.t==='목표'"}], "mark": {"type": "rule", "color": "#1f9e4a", "strokeDash": [3, 2], "strokeWidth": 1}, "encoding": {"x": {"field": "v", "type": "quantitative"}}},
       {"data": {"name": "hist"}, "transform": [{"filter": "datum.p==='100gr'"}], "mark": {"type": "rect", "fill": "#c4c4c4", "stroke": "#000", "strokeWidth": 0.7}, "encoding": {"x": {"field": "lo", "type": "quantitative"}, "x2": {"field": "hi"}, "y": {"field": "n", "type": "quantitative", "scale": {"domain": [0, 5.27], "nice": false}, "axis": null}, "y2": {"datum": 0}}},
       {"data": {"name": "curve"}, "transform": [{"filter": "datum.p==='100gr' && datum.s==='w'"}], "mark": {"type": "line", "color": "#e8101a", "strokeWidth": 2, "clip": true, "interpolate": "monotone"}, "encoding": {"x": {"field": "x", "type": "quantitative"}, "y": {"field": "y", "type": "quantitative", "axis": null}}},
       {"data": {"name": "curve"}, "transform": [{"filter": "datum.p==='100gr' && datum.s==='o'"}], "mark": {"type": "line", "color": "#000", "strokeWidth": 2, "strokeDash": [6, 3], "clip": true, "interpolate": "monotone"}, "encoding": {"x": {"field": "x", "type": "quantitative"}, "y": {"field": "y", "type": "quantitative", "axis": null}}},
       {"data": {"name": "spec"}, "mark": {"type": "text", "fontSize": 6, "baseline": "bottom", "dy": -2, "color": "#e02020"}, "encoding": {"x": {"field": "v", "type": "quantitative"}, "y": {"datum": 5.27, "type": "quantitative", "axis": null}, "text": {"field": "t", "type": "nominal"}}}
      ]},
     {"spacing": 3, "vconcat": [
      {"width": 72, "height": 20, "view": {"stroke": "#000", "strokeWidth": 1.2}, "data": {"name": "leg"},
       "layer": [
        {"mark": {"type": "rule", "color": "#e8101a", "strokeWidth": 2.5}, "encoding": {"x": {"datum": 0.06, "type": "quantitative", "scale": {"domain": [0, 1]}, "axis": null}, "x2": {"datum": 0.42}, "y": {"datum": "군내", "type": "nominal", "scale": {"domain": ["군내", "전체"]}, "axis": null}}},
        {"mark": {"type": "rule", "color": "#000", "strokeWidth": 2.5, "strokeDash": [5, 3]}, "encoding": {"x": {"datum": 0.06, "type": "quantitative"}, "x2": {"datum": 0.42}, "y": {"datum": "전체", "type": "nominal"}}},
        {"mark": {"type": "text", "align": "left", "fontSize": 7}, "encoding": {"x": {"datum": 0.5, "type": "quantitative"}, "y": {"field": "s", "type": "nominal"}, "text": {"field": "s", "type": "nominal"}}}
       ]},
      {"spacing": 0, "vconcat": [
       {"width": 72, "height": 42, "view": {"stroke": "#000", "strokeWidth": 1.2}, "data": {"name": "box"}, "transform": [{"filter": "datum.p==='100gr' && datum.b==='w'"}],
        "encoding": {"y": {"field": "l", "type": "nominal", "sort": null, "axis": null}},
        "layer": [
         {"mark": "text", "encoding": {"text": {"condition": {"test": "datum.h==1", "field": "l", "type": "nominal"}, "value": ""}}},
         {"mark": {"type": "text", "align": "left"}, "encoding": {"x": {"datum": 0.2, "type": "quantitative", "scale": {"domain": [0, 1]}, "axis": null}, "text": {"condition": {"test": "datum.h==1", "value": ""}, "field": "l", "type": "nominal"}}},
         {"mark": {"type": "text", "align": "right"}, "encoding": {"x": {"datum": 0.72, "type": "quantitative"}, "text": {"field": "v", "type": "nominal"}}}
        ]},
       {"width": 72, "height": 53, "view": {"stroke": "#000", "strokeWidth": 1.2}, "data": {"name": "box"}, "transform": [{"filter": "datum.p==='100gr' && datum.b==='o'"}],
        "encoding": {"y": {"field": "l", "type": "nominal", "sort": null, "axis": null}},
        "layer": [
         {"mark": "text", "encoding": {"text": {"condition": {"test": "datum.h==1", "field": "l", "type": "nominal"}, "value": ""}}},
         {"mark": {"type": "text", "align": "left"}, "encoding": {"x": {"datum": 0.2, "type": "quantitative", "scale": {"domain": [0, 1]}, "axis": null}, "text": {"condition": {"test": "datum.h==1", "value": ""}, "field": "l", "type": "nominal"}}},
         {"mark": {"type": "text", "align": "right"}, "encoding": {"x": {"datum": 0.72, "type": "quantitative"}, "text": {"field": "v", "type": "nominal"}}}
        ]}
      ]}
     ]}
    ]},
    {"spacing": 3, "hconcat": [
     {"width": 97, "height": 35, "view": {"stroke": "#000", "strokeWidth": 1.2}, "data": {"name": "box"}, "transform": [{"filter": "datum.p==='100gr' && datum.b==='ob'"}],
      "encoding": {"y": {"field": "l", "type": "nominal", "sort": null, "axis": null}},
      "layer": [
       {"mark": "text", "encoding": {"text": {"condition": {"test": "datum.h==1", "field": "l", "type": "nominal"}, "value": ""}}},
       {"mark": {"type": "text", "align": "left"}, "encoding": {"x": {"datum": 0.05, "type": "quantitative", "scale": {"domain": [0, 1]}, "axis": null}, "text": {"condition": {"test": "datum.h==1", "value": ""}, "field": "l", "type": "nominal"}}},
       {"mark": {"type": "text", "align": "right"}, "encoding": {"x": {"datum": 0.94, "type": "quantitative"}, "text": {"field": "v", "type": "nominal"}}}
      ]},
     {"width": 97, "height": 35, "view": {"stroke": "#000", "strokeWidth": 1.2}, "data": {"name": "box"}, "transform": [{"filter": "datum.p==='100gr' && datum.b==='ew'"}],
      "encoding": {"y": {"field": "l", "type": "nominal", "sort": null, "axis": null}},
      "layer": [
       {"mark": "text", "encoding": {"text": {"condition": {"test": "datum.h==1", "field": "l", "type": "nominal"}, "value": ""}}},
       {"mark": {"type": "text", "align": "left"}, "encoding": {"x": {"datum": 0.05, "type": "quantitative", "scale": {"domain": [0, 1]}, "axis": null}, "text": {"condition": {"test": "datum.h==1", "value": ""}, "field": "l", "type": "nominal"}}},
       {"mark": {"type": "text", "align": "right"}, "encoding": {"x": {"datum": 0.94, "type": "quantitative"}, "text": {"field": "v", "type": "nominal"}}}
      ]},
     {"width": 97, "height": 35, "view": {"stroke": "#000", "strokeWidth": 1.2}, "data": {"name": "box"}, "transform": [{"filter": "datum.p==='100gr' && datum.b==='eo'"}],
      "encoding": {"y": {"field": "l", "type": "nominal", "sort": null, "axis": null}},
      "layer": [
       {"mark": "text", "encoding": {"text": {"condition": {"test": "datum.h==1", "field": "l", "type": "nominal"}, "value": ""}}},
       {"mark": {"type": "text", "align": "left"}, "encoding": {"x": {"datum": 0.05, "type": "quantitative", "scale": {"domain": [0, 1]}, "axis": null}, "text": {"condition": {"test": "datum.h==1", "value": ""}, "field": "l", "type": "nominal"}}},
       {"mark": {"type": "text", "align": "right"}, "encoding": {"x": {"datum": 0.94, "type": "quantitative"}, "text": {"field": "v", "type": "nominal"}}}
      ]}
    ]}
   ]}
  ]}
 ]},
 {"spacing": 25, "hconcat": [
  {"spacing": 17, "vconcat": [
   {"width": 350, "height": 18, "view": {"stroke": null}, "data": {"name": "heads"}, "transform": [{"filter": "datum.p==='200gr'"}],
    "layer": [
     {"mark": {"type": "text", "align": "left", "font": "Liberation Sans", "fontSize": 18, "fontWeight": "bold"}, "encoding": {"x": {"datum": 0, "type": "quantitative", "scale": {"domain": [0, 1]}, "axis": null}, "text": {"field": "big", "type": "nominal"}}},
     {"mark": {"type": "text", "align": "center", "fontSize": 10, "fontWeight": "bold", "dy": 3}, "encoding": {"x": {"datum": 0.5, "type": "quantitative"}, "text": {"field": "title", "type": "nominal"}}}
    ]},
   {"spacing": 4, "vconcat": [
    {"bounds": "flush", "spacing": 9, "hconcat": [
     {"width": 83, "height": 67, "view": {"stroke": "#000", "strokeWidth": 1.2}, "data": {"name": "box"}, "transform": [{"filter": "datum.p==='200gr' && datum.b==='d'"}],
      "encoding": {"y": {"field": "l", "type": "nominal", "sort": null, "axis": null}},
      "layer": [
       {"mark": "text", "encoding": {"text": {"condition": {"test": "datum.h==1", "field": "l", "type": "nominal"}, "value": ""}}},
       {"mark": {"type": "text", "align": "left"}, "encoding": {"x": {"datum": 0.06, "type": "quantitative", "scale": {"domain": [0, 1]}, "axis": null}, "text": {"condition": {"test": "datum.h==1", "value": ""}, "field": "l", "type": "nominal"}}},
       {"mark": {"type": "text", "align": "left"}, "encoding": {"x": {"datum": 0.64, "type": "quantitative"}, "text": {"field": "v", "type": "nominal"}}}
      ]},
     {"width": 177, "height": 143, "view": {"fill": "white", "stroke": "#000", "strokeWidth": 1.2},
      "layer": [
       {"data": {"name": "spec"}, "transform": [{"filter": "datum.t!=='목표'"}], "mark": {"type": "rule", "color": "#d42020", "strokeDash": [3, 2], "strokeWidth": 1}, "encoding": {"x": {"field": "v", "type": "quantitative", "scale": {"domain": [-13, 133], "nice": false, "zero": false}, "axis": {"values": [0, 20, 40, 60, 80, 100, 120], "tickCount": 20, "title": null, "labelOverlap": false, "labelSeparation": 0}}}},
       {"data": {"name": "spec"}, "transform": [{"filter": "datum.t==='목표'"}], "mark": {"type": "rule", "color": "#1f9e4a", "strokeDash": [3, 2], "strokeWidth": 1}, "encoding": {"x": {"field": "v", "type": "quantitative"}}},
       {"data": {"name": "hist"}, "transform": [{"filter": "datum.p==='200gr'"}], "mark": {"type": "rect", "fill": "#c4c4c4", "stroke": "#000", "strokeWidth": 0.7}, "encoding": {"x": {"field": "lo", "type": "quantitative"}, "x2": {"field": "hi"}, "y": {"field": "n", "type": "quantitative", "scale": {"domain": [0, 7.43], "nice": false}, "axis": null}, "y2": {"datum": 0}}},
       {"data": {"name": "curve"}, "transform": [{"filter": "datum.p==='200gr' && datum.s==='w'"}], "mark": {"type": "line", "color": "#e8101a", "strokeWidth": 2, "clip": true, "interpolate": "monotone"}, "encoding": {"x": {"field": "x", "type": "quantitative"}, "y": {"field": "y", "type": "quantitative", "axis": null}}},
       {"data": {"name": "curve"}, "transform": [{"filter": "datum.p==='200gr' && datum.s==='o'"}], "mark": {"type": "line", "color": "#000", "strokeWidth": 2, "strokeDash": [6, 3], "clip": true, "interpolate": "monotone"}, "encoding": {"x": {"field": "x", "type": "quantitative"}, "y": {"field": "y", "type": "quantitative", "axis": null}}},
       {"data": {"name": "spec"}, "mark": {"type": "text", "fontSize": 6, "baseline": "bottom", "dy": -2, "color": "#e02020"}, "encoding": {"x": {"field": "v", "type": "quantitative"}, "y": {"datum": 7.43, "type": "quantitative", "axis": null}, "text": {"field": "t", "type": "nominal"}}}
      ]},
     {"spacing": 3, "vconcat": [
      {"width": 72, "height": 20, "view": {"stroke": "#000", "strokeWidth": 1.2}, "data": {"name": "leg"},
       "layer": [
        {"mark": {"type": "rule", "color": "#e8101a", "strokeWidth": 2.5}, "encoding": {"x": {"datum": 0.06, "type": "quantitative", "scale": {"domain": [0, 1]}, "axis": null}, "x2": {"datum": 0.42}, "y": {"datum": "군내", "type": "nominal", "scale": {"domain": ["군내", "전체"]}, "axis": null}}},
        {"mark": {"type": "rule", "color": "#000", "strokeWidth": 2.5, "strokeDash": [5, 3]}, "encoding": {"x": {"datum": 0.06, "type": "quantitative"}, "x2": {"datum": 0.42}, "y": {"datum": "전체", "type": "nominal"}}},
        {"mark": {"type": "text", "align": "left", "fontSize": 7}, "encoding": {"x": {"datum": 0.5, "type": "quantitative"}, "y": {"field": "s", "type": "nominal"}, "text": {"field": "s", "type": "nominal"}}}
       ]},
      {"spacing": 0, "vconcat": [
       {"width": 72, "height": 42, "view": {"stroke": "#000", "strokeWidth": 1.2}, "data": {"name": "box"}, "transform": [{"filter": "datum.p==='200gr' && datum.b==='w'"}],
        "encoding": {"y": {"field": "l", "type": "nominal", "sort": null, "axis": null}},
        "layer": [
         {"mark": "text", "encoding": {"text": {"condition": {"test": "datum.h==1", "field": "l", "type": "nominal"}, "value": ""}}},
         {"mark": {"type": "text", "align": "left"}, "encoding": {"x": {"datum": 0.2, "type": "quantitative", "scale": {"domain": [0, 1]}, "axis": null}, "text": {"condition": {"test": "datum.h==1", "value": ""}, "field": "l", "type": "nominal"}}},
         {"mark": {"type": "text", "align": "right"}, "encoding": {"x": {"datum": 0.72, "type": "quantitative"}, "text": {"field": "v", "type": "nominal"}}}
        ]},
       {"width": 72, "height": 53, "view": {"stroke": "#000", "strokeWidth": 1.2}, "data": {"name": "box"}, "transform": [{"filter": "datum.p==='200gr' && datum.b==='o'"}],
        "encoding": {"y": {"field": "l", "type": "nominal", "sort": null, "axis": null}},
        "layer": [
         {"mark": "text", "encoding": {"text": {"condition": {"test": "datum.h==1", "field": "l", "type": "nominal"}, "value": ""}}},
         {"mark": {"type": "text", "align": "left"}, "encoding": {"x": {"datum": 0.2, "type": "quantitative", "scale": {"domain": [0, 1]}, "axis": null}, "text": {"condition": {"test": "datum.h==1", "value": ""}, "field": "l", "type": "nominal"}}},
         {"mark": {"type": "text", "align": "right"}, "encoding": {"x": {"datum": 0.72, "type": "quantitative"}, "text": {"field": "v", "type": "nominal"}}}
        ]}
      ]}
     ]}
    ]},
    {"spacing": 3, "hconcat": [
     {"width": 97, "height": 35, "view": {"stroke": "#000", "strokeWidth": 1.2}, "data": {"name": "box"}, "transform": [{"filter": "datum.p==='200gr' && datum.b==='ob'"}],
      "encoding": {"y": {"field": "l", "type": "nominal", "sort": null, "axis": null}},
      "layer": [
       {"mark": "text", "encoding": {"text": {"condition": {"test": "datum.h==1", "field": "l", "type": "nominal"}, "value": ""}}},
       {"mark": {"type": "text", "align": "left"}, "encoding": {"x": {"datum": 0.05, "type": "quantitative", "scale": {"domain": [0, 1]}, "axis": null}, "text": {"condition": {"test": "datum.h==1", "value": ""}, "field": "l", "type": "nominal"}}},
       {"mark": {"type": "text", "align": "right"}, "encoding": {"x": {"datum": 0.94, "type": "quantitative"}, "text": {"field": "v", "type": "nominal"}}}
      ]},
     {"width": 97, "height": 35, "view": {"stroke": "#000", "strokeWidth": 1.2}, "data": {"name": "box"}, "transform": [{"filter": "datum.p==='200gr' && datum.b==='ew'"}],
      "encoding": {"y": {"field": "l", "type": "nominal", "sort": null, "axis": null}},
      "layer": [
       {"mark": "text", "encoding": {"text": {"condition": {"test": "datum.h==1", "field": "l", "type": "nominal"}, "value": ""}}},
       {"mark": {"type": "text", "align": "left"}, "encoding": {"x": {"datum": 0.05, "type": "quantitative", "scale": {"domain": [0, 1]}, "axis": null}, "text": {"condition": {"test": "datum.h==1", "value": ""}, "field": "l", "type": "nominal"}}},
       {"mark": {"type": "text", "align": "right"}, "encoding": {"x": {"datum": 0.94, "type": "quantitative"}, "text": {"field": "v", "type": "nominal"}}}
      ]},
     {"width": 97, "height": 35, "view": {"stroke": "#000", "strokeWidth": 1.2}, "data": {"name": "box"}, "transform": [{"filter": "datum.p==='200gr' && datum.b==='eo'"}],
      "encoding": {"y": {"field": "l", "type": "nominal", "sort": null, "axis": null}},
      "layer": [
       {"mark": "text", "encoding": {"text": {"condition": {"test": "datum.h==1", "field": "l", "type": "nominal"}, "value": ""}}},
       {"mark": {"type": "text", "align": "left"}, "encoding": {"x": {"datum": 0.05, "type": "quantitative", "scale": {"domain": [0, 1]}, "axis": null}, "text": {"condition": {"test": "datum.h==1", "value": ""}, "field": "l", "type": "nominal"}}},
       {"mark": {"type": "text", "align": "right"}, "encoding": {"x": {"datum": 0.94, "type": "quantitative"}, "text": {"field": "v", "type": "nominal"}}}
      ]}
    ]}
   ]}
  ]},
  {"spacing": 17, "vconcat": [
   {"width": 350, "height": 18, "view": {"stroke": null}, "data": {"name": "heads"}, "transform": [{"filter": "datum.p==='500gr'"}],
    "layer": [
     {"mark": {"type": "text", "align": "left", "font": "Liberation Sans", "fontSize": 18, "fontWeight": "bold"}, "encoding": {"x": {"datum": 0, "type": "quantitative", "scale": {"domain": [0, 1]}, "axis": null}, "text": {"field": "big", "type": "nominal"}}},
     {"mark": {"type": "text", "align": "center", "fontSize": 10, "fontWeight": "bold", "dy": 3}, "encoding": {"x": {"datum": 0.5, "type": "quantitative"}, "text": {"field": "title", "type": "nominal"}}}
    ]},
   {"spacing": 4, "vconcat": [
    {"bounds": "flush", "spacing": 9, "hconcat": [
     {"width": 83, "height": 67, "view": {"stroke": "#000", "strokeWidth": 1.2}, "data": {"name": "box"}, "transform": [{"filter": "datum.p==='500gr' && datum.b==='d'"}],
      "encoding": {"y": {"field": "l", "type": "nominal", "sort": null, "axis": null}},
      "layer": [
       {"mark": "text", "encoding": {"text": {"condition": {"test": "datum.h==1", "field": "l", "type": "nominal"}, "value": ""}}},
       {"mark": {"type": "text", "align": "left"}, "encoding": {"x": {"datum": 0.06, "type": "quantitative", "scale": {"domain": [0, 1]}, "axis": null}, "text": {"condition": {"test": "datum.h==1", "value": ""}, "field": "l", "type": "nominal"}}},
       {"mark": {"type": "text", "align": "left"}, "encoding": {"x": {"datum": 0.64, "type": "quantitative"}, "text": {"field": "v", "type": "nominal"}}}
      ]},
     {"width": 177, "height": 143, "view": {"fill": "white", "stroke": "#000", "strokeWidth": 1.2},
      "layer": [
       {"data": {"name": "spec"}, "transform": [{"filter": "datum.t!=='목표'"}], "mark": {"type": "rule", "color": "#d42020", "strokeDash": [3, 2], "strokeWidth": 1}, "encoding": {"x": {"field": "v", "type": "quantitative", "scale": {"domain": [-8, 130], "nice": false, "zero": false}, "axis": {"values": [0, 20, 40, 60, 80, 100, 120], "tickCount": 20, "title": null, "labelOverlap": false, "labelSeparation": 0}}}},
       {"data": {"name": "spec"}, "transform": [{"filter": "datum.t==='목표'"}], "mark": {"type": "rule", "color": "#1f9e4a", "strokeDash": [3, 2], "strokeWidth": 1}, "encoding": {"x": {"field": "v", "type": "quantitative"}}},
       {"data": {"name": "hist"}, "transform": [{"filter": "datum.p==='500gr'"}], "mark": {"type": "rect", "fill": "#c4c4c4", "stroke": "#000", "strokeWidth": 0.7}, "encoding": {"x": {"field": "lo", "type": "quantitative"}, "x2": {"field": "hi"}, "y": {"field": "n", "type": "quantitative", "scale": {"domain": [0, 9.1], "nice": false}, "axis": null}, "y2": {"datum": 0}}},
       {"data": {"name": "curve"}, "transform": [{"filter": "datum.p==='500gr' && datum.s==='w'"}], "mark": {"type": "line", "color": "#e8101a", "strokeWidth": 2, "clip": true, "interpolate": "monotone"}, "encoding": {"x": {"field": "x", "type": "quantitative"}, "y": {"field": "y", "type": "quantitative", "axis": null}}},
       {"data": {"name": "curve"}, "transform": [{"filter": "datum.p==='500gr' && datum.s==='o'"}], "mark": {"type": "line", "color": "#000", "strokeWidth": 2, "strokeDash": [6, 3], "clip": true, "interpolate": "monotone"}, "encoding": {"x": {"field": "x", "type": "quantitative"}, "y": {"field": "y", "type": "quantitative", "axis": null}}},
       {"data": {"name": "spec"}, "mark": {"type": "text", "fontSize": 6, "baseline": "bottom", "dy": -2, "color": "#e02020"}, "encoding": {"x": {"field": "v", "type": "quantitative"}, "y": {"datum": 9.1, "type": "quantitative", "axis": null}, "text": {"field": "t", "type": "nominal"}}}
      ]},
     {"spacing": 3, "vconcat": [
      {"width": 72, "height": 20, "view": {"stroke": "#000", "strokeWidth": 1.2}, "data": {"name": "leg"},
       "layer": [
        {"mark": {"type": "rule", "color": "#e8101a", "strokeWidth": 2.5}, "encoding": {"x": {"datum": 0.06, "type": "quantitative", "scale": {"domain": [0, 1]}, "axis": null}, "x2": {"datum": 0.42}, "y": {"datum": "군내", "type": "nominal", "scale": {"domain": ["군내", "전체"]}, "axis": null}}},
        {"mark": {"type": "rule", "color": "#000", "strokeWidth": 2.5, "strokeDash": [5, 3]}, "encoding": {"x": {"datum": 0.06, "type": "quantitative"}, "x2": {"datum": 0.42}, "y": {"datum": "전체", "type": "nominal"}}},
        {"mark": {"type": "text", "align": "left", "fontSize": 7}, "encoding": {"x": {"datum": 0.5, "type": "quantitative"}, "y": {"field": "s", "type": "nominal"}, "text": {"field": "s", "type": "nominal"}}}
       ]},
      {"spacing": 0, "vconcat": [
       {"width": 72, "height": 42, "view": {"stroke": "#000", "strokeWidth": 1.2}, "data": {"name": "box"}, "transform": [{"filter": "datum.p==='500gr' && datum.b==='w'"}],
        "encoding": {"y": {"field": "l", "type": "nominal", "sort": null, "axis": null}},
        "layer": [
         {"mark": "text", "encoding": {"text": {"condition": {"test": "datum.h==1", "field": "l", "type": "nominal"}, "value": ""}}},
         {"mark": {"type": "text", "align": "left"}, "encoding": {"x": {"datum": 0.2, "type": "quantitative", "scale": {"domain": [0, 1]}, "axis": null}, "text": {"condition": {"test": "datum.h==1", "value": ""}, "field": "l", "type": "nominal"}}},
         {"mark": {"type": "text", "align": "right"}, "encoding": {"x": {"datum": 0.72, "type": "quantitative"}, "text": {"field": "v", "type": "nominal"}}}
        ]},
       {"width": 72, "height": 53, "view": {"stroke": "#000", "strokeWidth": 1.2}, "data": {"name": "box"}, "transform": [{"filter": "datum.p==='500gr' && datum.b==='o'"}],
        "encoding": {"y": {"field": "l", "type": "nominal", "sort": null, "axis": null}},
        "layer": [
         {"mark": "text", "encoding": {"text": {"condition": {"test": "datum.h==1", "field": "l", "type": "nominal"}, "value": ""}}},
         {"mark": {"type": "text", "align": "left"}, "encoding": {"x": {"datum": 0.2, "type": "quantitative", "scale": {"domain": [0, 1]}, "axis": null}, "text": {"condition": {"test": "datum.h==1", "value": ""}, "field": "l", "type": "nominal"}}},
         {"mark": {"type": "text", "align": "right"}, "encoding": {"x": {"datum": 0.72, "type": "quantitative"}, "text": {"field": "v", "type": "nominal"}}}
        ]}
      ]}
     ]}
    ]},
    {"spacing": 3, "hconcat": [
     {"width": 97, "height": 35, "view": {"stroke": "#000", "strokeWidth": 1.2}, "data": {"name": "box"}, "transform": [{"filter": "datum.p==='500gr' && datum.b==='ob'"}],
      "encoding": {"y": {"field": "l", "type": "nominal", "sort": null, "axis": null}},
      "layer": [
       {"mark": "text", "encoding": {"text": {"condition": {"test": "datum.h==1", "field": "l", "type": "nominal"}, "value": ""}}},
       {"mark": {"type": "text", "align": "left"}, "encoding": {"x": {"datum": 0.05, "type": "quantitative", "scale": {"domain": [0, 1]}, "axis": null}, "text": {"condition": {"test": "datum.h==1", "value": ""}, "field": "l", "type": "nominal"}}},
       {"mark": {"type": "text", "align": "right"}, "encoding": {"x": {"datum": 0.94, "type": "quantitative"}, "text": {"field": "v", "type": "nominal"}}}
      ]},
     {"width": 97, "height": 35, "view": {"stroke": "#000", "strokeWidth": 1.2}, "data": {"name": "box"}, "transform": [{"filter": "datum.p==='500gr' && datum.b==='ew'"}],
      "encoding": {"y": {"field": "l", "type": "nominal", "sort": null, "axis": null}},
      "layer": [
       {"mark": "text", "encoding": {"text": {"condition": {"test": "datum.h==1", "field": "l", "type": "nominal"}, "value": ""}}},
       {"mark": {"type": "text", "align": "left"}, "encoding": {"x": {"datum": 0.05, "type": "quantitative", "scale": {"domain": [0, 1]}, "axis": null}, "text": {"condition": {"test": "datum.h==1", "value": ""}, "field": "l", "type": "nominal"}}},
       {"mark": {"type": "text", "align": "right"}, "encoding": {"x": {"datum": 0.94, "type": "quantitative"}, "text": {"field": "v", "type": "nominal"}}}
      ]},
     {"width": 97, "height": 35, "view": {"stroke": "#000", "strokeWidth": 1.2}, "data": {"name": "box"}, "transform": [{"filter": "datum.p==='500gr' && datum.b==='eo'"}],
      "encoding": {"y": {"field": "l", "type": "nominal", "sort": null, "axis": null}},
      "layer": [
       {"mark": "text", "encoding": {"text": {"condition": {"test": "datum.h==1", "field": "l", "type": "nominal"}, "value": ""}}},
       {"mark": {"type": "text", "align": "left"}, "encoding": {"x": {"datum": 0.05, "type": "quantitative", "scale": {"domain": [0, 1]}, "axis": null}, "text": {"condition": {"test": "datum.h==1", "value": ""}, "field": "l", "type": "nominal"}}},
       {"mark": {"type": "text", "align": "right"}, "encoding": {"x": {"datum": 0.94, "type": "quantitative"}, "text": {"field": "v", "type": "nominal"}}}
      ]}
    ]}
   ]}
  ]}
 ]},
 {"spacing": 9, "hconcat": [
  {"spacing": 17, "vconcat": [
   {"width": 350, "height": 18, "view": {"stroke": null}, "data": {"name": "heads"}, "transform": [{"filter": "datum.p==='Total'"}],
    "layer": [
     {"mark": {"type": "text", "align": "left", "font": "Liberation Sans", "fontSize": 18, "fontWeight": "bold"}, "encoding": {"x": {"datum": 0, "type": "quantitative", "scale": {"domain": [0, 1]}, "axis": null}, "text": {"field": "big", "type": "nominal"}}},
     {"mark": {"type": "text", "align": "center", "fontSize": 10, "fontWeight": "bold", "dy": 3}, "encoding": {"x": {"datum": 0.5, "type": "quantitative"}, "text": {"field": "title", "type": "nominal"}}}
    ]},
   {"spacing": 4, "vconcat": [
    {"bounds": "flush", "spacing": 9, "hconcat": [
     {"width": 83, "height": 67, "view": {"stroke": "#000", "strokeWidth": 1.2}, "data": {"name": "box"}, "transform": [{"filter": "datum.p==='Total' && datum.b==='d'"}],
      "encoding": {"y": {"field": "l", "type": "nominal", "sort": null, "axis": null}},
      "layer": [
       {"mark": "text", "encoding": {"text": {"condition": {"test": "datum.h==1", "field": "l", "type": "nominal"}, "value": ""}}},
       {"mark": {"type": "text", "align": "left"}, "encoding": {"x": {"datum": 0.06, "type": "quantitative", "scale": {"domain": [0, 1]}, "axis": null}, "text": {"condition": {"test": "datum.h==1", "value": ""}, "field": "l", "type": "nominal"}}},
       {"mark": {"type": "text", "align": "left"}, "encoding": {"x": {"datum": 0.64, "type": "quantitative"}, "text": {"field": "v", "type": "nominal"}}}
      ]},
     {"width": 177, "height": 143, "view": {"fill": "white", "stroke": "#000", "strokeWidth": 1.2},
      "layer": [
       {"data": {"name": "spec"}, "transform": [{"filter": "datum.t!=='목표'"}], "mark": {"type": "rule", "color": "#d42020", "strokeDash": [3, 2], "strokeWidth": 1}, "encoding": {"x": {"field": "v", "type": "quantitative", "scale": {"domain": [-15, 132], "nice": false, "zero": false}, "axis": {"values": [0, 20, 40, 60, 80, 100, 120], "tickCount": 20, "title": null, "labelOverlap": false, "labelSeparation": 0}}}},
       {"data": {"name": "spec"}, "transform": [{"filter": "datum.t==='목표'"}], "mark": {"type": "rule", "color": "#1f9e4a", "strokeDash": [3, 2], "strokeWidth": 1}, "encoding": {"x": {"field": "v", "type": "quantitative"}}},
       {"data": {"name": "hist"}, "transform": [{"filter": "datum.p==='Total'"}], "mark": {"type": "rect", "fill": "#c4c4c4", "stroke": "#000", "strokeWidth": 0.7}, "encoding": {"x": {"field": "lo", "type": "quantitative"}, "x2": {"field": "hi"}, "y": {"field": "n", "type": "quantitative", "scale": {"domain": [0, 22.1], "nice": false}, "axis": null}, "y2": {"datum": 0}}},
       {"data": {"name": "curve"}, "transform": [{"filter": "datum.p==='Total' && datum.s==='w'"}], "mark": {"type": "line", "color": "#e8101a", "strokeWidth": 2, "clip": true, "interpolate": "monotone"}, "encoding": {"x": {"field": "x", "type": "quantitative"}, "y": {"field": "y", "type": "quantitative", "axis": null}}},
       {"data": {"name": "curve"}, "transform": [{"filter": "datum.p==='Total' && datum.s==='o'"}], "mark": {"type": "line", "color": "#000", "strokeWidth": 2, "strokeDash": [6, 3], "clip": true, "interpolate": "monotone"}, "encoding": {"x": {"field": "x", "type": "quantitative"}, "y": {"field": "y", "type": "quantitative", "axis": null}}},
       {"data": {"name": "spec"}, "mark": {"type": "text", "fontSize": 6, "baseline": "bottom", "dy": -2, "color": "#e02020"}, "encoding": {"x": {"field": "v", "type": "quantitative"}, "y": {"datum": 22.1, "type": "quantitative", "axis": null}, "text": {"field": "t", "type": "nominal"}}}
      ]},
     {"spacing": 3, "vconcat": [
      {"width": 72, "height": 20, "view": {"stroke": "#000", "strokeWidth": 1.2}, "data": {"name": "leg"},
       "layer": [
        {"mark": {"type": "rule", "color": "#e8101a", "strokeWidth": 2.5}, "encoding": {"x": {"datum": 0.06, "type": "quantitative", "scale": {"domain": [0, 1]}, "axis": null}, "x2": {"datum": 0.42}, "y": {"datum": "군내", "type": "nominal", "scale": {"domain": ["군내", "전체"]}, "axis": null}}},
        {"mark": {"type": "rule", "color": "#000", "strokeWidth": 2.5, "strokeDash": [5, 3]}, "encoding": {"x": {"datum": 0.06, "type": "quantitative"}, "x2": {"datum": 0.42}, "y": {"datum": "전체", "type": "nominal"}}},
        {"mark": {"type": "text", "align": "left", "fontSize": 7}, "encoding": {"x": {"datum": 0.5, "type": "quantitative"}, "y": {"field": "s", "type": "nominal"}, "text": {"field": "s", "type": "nominal"}}}
       ]},
      {"spacing": 0, "vconcat": [
       {"width": 72, "height": 42, "view": {"stroke": "#000", "strokeWidth": 1.2}, "data": {"name": "box"}, "transform": [{"filter": "datum.p==='Total' && datum.b==='w'"}],
        "encoding": {"y": {"field": "l", "type": "nominal", "sort": null, "axis": null}},
        "layer": [
         {"mark": "text", "encoding": {"text": {"condition": {"test": "datum.h==1", "field": "l", "type": "nominal"}, "value": ""}}},
         {"mark": {"type": "text", "align": "left"}, "encoding": {"x": {"datum": 0.2, "type": "quantitative", "scale": {"domain": [0, 1]}, "axis": null}, "text": {"condition": {"test": "datum.h==1", "value": ""}, "field": "l", "type": "nominal"}}},
         {"mark": {"type": "text", "align": "right"}, "encoding": {"x": {"datum": 0.72, "type": "quantitative"}, "text": {"field": "v", "type": "nominal"}}}
        ]},
       {"width": 72, "height": 53, "view": {"stroke": "#000", "strokeWidth": 1.2}, "data": {"name": "box"}, "transform": [{"filter": "datum.p==='Total' && datum.b==='o'"}],
        "encoding": {"y": {"field": "l", "type": "nominal", "sort": null, "axis": null}},
        "layer": [
         {"mark": "text", "encoding": {"text": {"condition": {"test": "datum.h==1", "field": "l", "type": "nominal"}, "value": ""}}},
         {"mark": {"type": "text", "align": "left"}, "encoding": {"x": {"datum": 0.2, "type": "quantitative", "scale": {"domain": [0, 1]}, "axis": null}, "text": {"condition": {"test": "datum.h==1", "value": ""}, "field": "l", "type": "nominal"}}},
         {"mark": {"type": "text", "align": "right"}, "encoding": {"x": {"datum": 0.72, "type": "quantitative"}, "text": {"field": "v", "type": "nominal"}}}
        ]}
      ]}
     ]}
    ]},
    {"spacing": 3, "hconcat": [
     {"width": 97, "height": 35, "view": {"stroke": "#000", "strokeWidth": 1.2}, "data": {"name": "box"}, "transform": [{"filter": "datum.p==='Total' && datum.b==='ob'"}],
      "encoding": {"y": {"field": "l", "type": "nominal", "sort": null, "axis": null}},
      "layer": [
       {"mark": "text", "encoding": {"text": {"condition": {"test": "datum.h==1", "field": "l", "type": "nominal"}, "value": ""}}},
       {"mark": {"type": "text", "align": "left"}, "encoding": {"x": {"datum": 0.05, "type": "quantitative", "scale": {"domain": [0, 1]}, "axis": null}, "text": {"condition": {"test": "datum.h==1", "value": ""}, "field": "l", "type": "nominal"}}},
       {"mark": {"type": "text", "align": "right"}, "encoding": {"x": {"datum": 0.94, "type": "quantitative"}, "text": {"field": "v", "type": "nominal"}}}
      ]},
     {"width": 97, "height": 35, "view": {"stroke": "#000", "strokeWidth": 1.2}, "data": {"name": "box"}, "transform": [{"filter": "datum.p==='Total' && datum.b==='ew'"}],
      "encoding": {"y": {"field": "l", "type": "nominal", "sort": null, "axis": null}},
      "layer": [
       {"mark": "text", "encoding": {"text": {"condition": {"test": "datum.h==1", "field": "l", "type": "nominal"}, "value": ""}}},
       {"mark": {"type": "text", "align": "left"}, "encoding": {"x": {"datum": 0.05, "type": "quantitative", "scale": {"domain": [0, 1]}, "axis": null}, "text": {"condition": {"test": "datum.h==1", "value": ""}, "field": "l", "type": "nominal"}}},
       {"mark": {"type": "text", "align": "right"}, "encoding": {"x": {"datum": 0.94, "type": "quantitative"}, "text": {"field": "v", "type": "nominal"}}}
      ]},
     {"width": 97, "height": 35, "view": {"stroke": "#000", "strokeWidth": 1.2}, "data": {"name": "box"}, "transform": [{"filter": "datum.p==='Total' && datum.b==='eo'"}],
      "encoding": {"y": {"field": "l", "type": "nominal", "sort": null, "axis": null}},
      "layer": [
       {"mark": "text", "encoding": {"text": {"condition": {"test": "datum.h==1", "field": "l", "type": "nominal"}, "value": ""}}},
       {"mark": {"type": "text", "align": "left"}, "encoding": {"x": {"datum": 0.05, "type": "quantitative", "scale": {"domain": [0, 1]}, "axis": null}, "text": {"condition": {"test": "datum.h==1", "value": ""}, "field": "l", "type": "nominal"}}},
       {"mark": {"type": "text", "align": "right"}, "encoding": {"x": {"datum": 0.94, "type": "quantitative"}, "text": {"field": "v", "type": "nominal"}}}
      ]}
    ]}
   ]}
  ]},
  {"width": 374, "height": 246, "view": {"fill": "white", "stroke": null}, "data": {"values": [{"e": ""}]}, "mark": "text", "encoding": {"text": {"field": "e", "type": "nominal"}}}
 ]}
]
}
